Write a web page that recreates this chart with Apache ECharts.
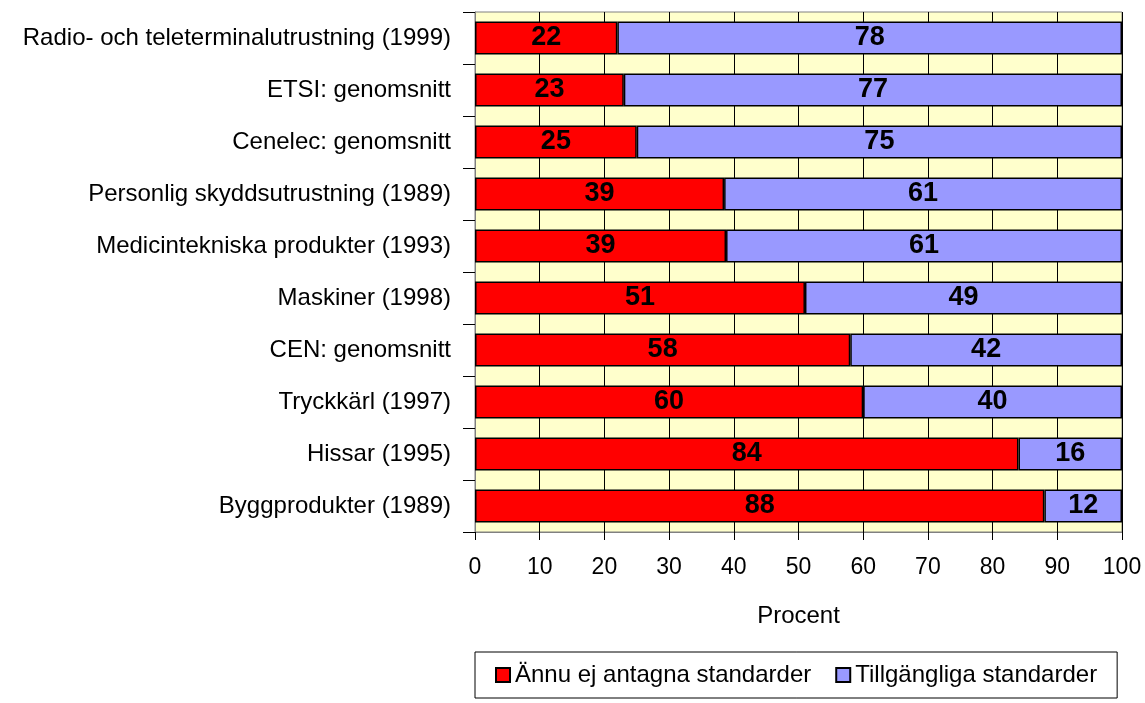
<!DOCTYPE html>
<html lang="sv" style="height: 100%">
<head>
    <meta charset="UTF-8">
    <title>Standarder</title>
    <script src="https://cdn.jsdelivr.net/npm/echarts@6/dist/echarts.min.js"></script>
</head>
<body style="height: 100%; margin: 0; background: #fff">
<div id="main" style="width: 1145px; height: 703px"></div>
<script>
    var categories = ['Radio- och teleterminalutrustning (1999)', 'ETSI: genomsnitt', 'Cenelec: genomsnitt',
        'Personlig skyddsutrustning (1989)', 'Medicintekniska produkter (1993)', 'Maskiner (1998)',
        'CEN: genomsnitt', 'Tryckkärl (1997)', 'Hissar (1995)', 'Byggprodukter (1989)'];
    var notYet = [22, 23, 25, 38.5, 38.8, 51, 58, 60, 84, 88];
    var available = [78, 77, 75, 61.5, 61.2, 49, 42, 40, 16, 12];
    var notYetLabels = ['22', '23', '25', '39', '39', '51', '58', '60', '84', '88'];
    var availableLabels = ['78', '77', '75', '61', '61', '49', '42', '40', '16', '12'];
    var xTicks = [0, 10, 20, 30, 40, 50, 60, 70, 80, 90, 100];

    var font = "'Liberation Sans', Arial, sans-serif";

    function barLabel(labels) {
        return {
            show: true,
            position: 'inside',
            color: '#000',
            fontFamily: font,
            fontWeight: 'bold',
            fontSize: 27,
            formatter: function (p) { return labels[p.dataIndex]; }
        };
    }

    var myChart = echarts.init(document.getElementById('main'));
    myChart.setOption({
        animation: false,
        textStyle: {fontFamily: font},
        grid: {
            left: 475, right: 23, top: 12, bottom: 171,
            show: true,
            backgroundColor: '#FFFFCC',
            borderColor: '#808080',
            borderWidth: 1
        },
        legend: {
            left: 475,
            top: 652,
            icon: 'rect',
            itemWidth: 14,
            itemHeight: 14,
            itemGap: 24,
            padding: [11, 20],
            borderColor: '#000',
            borderWidth: 1,
            textStyle: {fontFamily: font, fontSize: 24, color: '#000'},
            data: ['Ännu ej antagna standarder', 'Tillgängliga standarder']
        },
        xAxis: {
            type: 'value',
            min: xTicks[0],
            max: xTicks[xTicks.length - 1],
            interval: 10,
            name: 'Procent',
            nameLocation: 'middle',
            nameGap: 72,
            nameTextStyle: {fontFamily: font, fontSize: 24, color: '#000'},
            axisLine: {show: true, lineStyle: {color: '#808080'}},
            axisTick: {show: true, length: 8, lineStyle: {color: '#000'}},
            axisLabel: {margin: 24, fontFamily: font, fontSize: 23, color: '#000'},
            splitLine: {show: true, lineStyle: {color: '#000', width: 1}}
        },
        yAxis: {
            type: 'category',
            inverse: true,
            data: categories,
            axisLine: {show: true, lineStyle: {color: '#808080'}},
            axisTick: {show: true, length: 12, lineStyle: {color: '#000'}},
            axisLabel: {margin: 24, fontFamily: font, fontSize: 24, color: '#000'}
        },
        series: [
            {
                name: 'Ännu ej antagna standarder',
                type: 'bar',
                stack: 'total',
                barWidth: '63%',
                data: notYet,
                itemStyle: {color: '#FF0000', borderColor: '#000', borderWidth: 1.5},
                label: barLabel(notYetLabels)
            },
            {
                name: 'Tillgängliga standarder',
                type: 'bar',
                stack: 'total',
                barWidth: '63%',
                data: available,
                itemStyle: {color: '#9999FF', borderColor: '#000', borderWidth: 1.5},
                label: barLabel(availableLabels)
            }
        ]
    });
</script>
</body>
</html>
